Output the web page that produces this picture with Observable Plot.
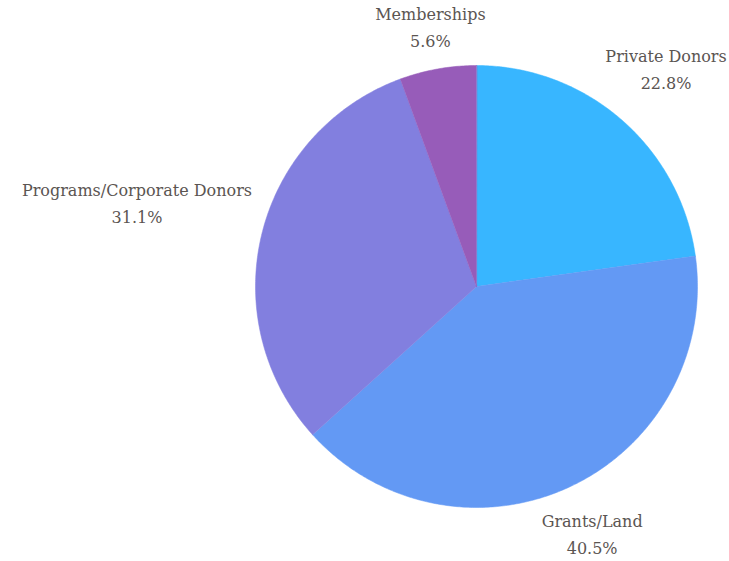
<!DOCTYPE html>
<html>
<head>
<meta charset="utf-8">
<script src="https://cdn.jsdelivr.net/npm/d3@7"></script>
<script src="https://cdn.jsdelivr.net/npm/@observablehq/plot@0.6"></script>
<style>
  html, body { margin: 0; padding: 0; background: #ffffff; }
  #chart svg { display: block; }
</style>
</head>
<body>
<div id="chart"></div>
<script>
const categories = ["Private Donors", "Grants/Land", "Programs/Corporate Donors", "Memberships"];
const values = [22.8, 40.5, 31.1, 5.6];
const labels = ["22.8%", "40.5%", "31.1%", "5.6%"];
const colors = ["#38b6ff", "#6399f4", "#827fdf", "#975cb9"];

const W = 729, H = 561;
const cx = 476, cy = 286, R = 221;
const fontFamily = "'DejaVu Serif', serif";
const fontSize = 16;
const lineH = 27;

const pie = d3.pie().sort(null).value(d => d)(values);

// slice polygons in data units (origin = pie centre, y up)
const pts = [];
pie.forEach((a, i) => {
  pts.push({cat: categories[i], x: 0, y: 0});
  const n = Math.max(2, Math.ceil((a.endAngle - a.startAngle) / 0.01));
  for (let k = 0; k <= n; k++) {
    const t = a.startAngle + (a.endAngle - a.startAngle) * k / n;
    pts.push({cat: categories[i], x: R * Math.sin(t), y: R * Math.cos(t)});
  }
});

// label positions: box edge sits a fixed gap outside the pie along the mid-angle
const ctx = document.createElement("canvas").getContext("2d");
ctx.font = `${fontSize}px ${fontFamily}`;
const gap = 12;
const lab = pie.map((a, i) => {
  const t = (a.startAngle + a.endAngle) / 2;
  const w = Math.max(ctx.measureText(categories[i]).width, ctx.measureText(labels[i]).width);
  const h = 42;
  const s = Math.sin(t), c = Math.cos(t);
  const d = R + gap + Math.abs(s) * w / 2 + Math.abs(c) * h / 2;
  return {text: categories[i] + "\n" + labels[i], x: d * s, y: d * c};
});

const chart = Plot.plot({
  width: W, height: H,
  margin: 0,
  x: {domain: [-cx, W - cx], range: [0, W], axis: null},
  y: {domain: [cy - H, cy], range: [H, 0], axis: null},
  color: {domain: categories, range: colors},
  style: {fontFamily: fontFamily, background: "#ffffff"},
  marks: [
    Plot.line(pts, {x: "x", y: "y", z: "cat", fill: "cat", stroke: "cat", strokeWidth: 0.5, curve: "linear-closed"}),
    Plot.text(lab, {x: "x", y: "y", text: "text", dy: -2, fontSize: fontSize, lineHeight: lineH / fontSize, fill: "#5b5552"})
  ]
});
document.getElementById("chart").appendChild(chart);
</script>
</body>
</html>
